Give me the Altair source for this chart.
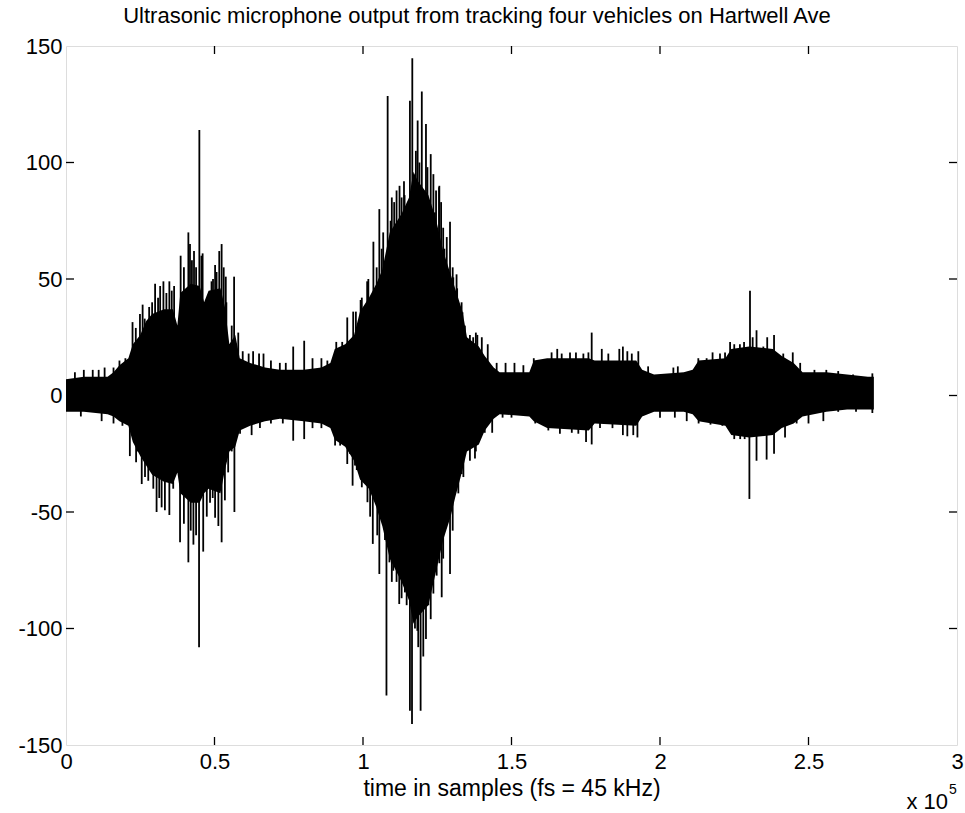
import altair as alt
import pandas as pd

# ---------------- data ----------------
# core envelope (x in thousands of samples)
env_k = [0, 6, 14, 16, 18, 21, 22.5, 25, 27, 29, 33, 36, 37.5, 38.5, 42, 45, 46.5, 48, 52, 53.5,
         55, 57, 58.5, 62, 67, 72, 80, 86, 89, 90.5, 94, 97, 99, 102, 104.5, 106.5, 109, 113,
         115.5, 117, 118.5, 122, 124.5, 127, 129.5, 131, 133.5, 135, 139, 141, 144, 146, 156,
         157.5, 162, 176, 178, 192, 194, 198, 208, 211, 213, 222, 224, 230, 238, 241, 245, 248,
         256, 263, 270, 272]
env_hi = [7, 8, 8, 10, 13, 16, 22, 26, 32, 35, 37, 37, 30, 44, 48, 47, 40, 45, 46, 38,
          22, 26, 16, 14, 12, 11, 11, 12, 14, 20, 22, 26, 36, 42, 48, 54, 70, 78,
          85, 96, 92, 86, 76, 62, 52, 46, 36, 25, 21, 17, 12, 10, 10,
          15, 16, 16, 15, 15, 11, 9, 10, 11, 15, 16, 20, 21, 20, 17, 14, 10,
          10, 9, 8, 8]
env_lo = [-7, -7, -8, -9, -11, -13, -20, -26, -30, -34, -37, -38, -33, -42, -46, -46, -42, -40, -42, -32,
          -24, -22, -15, -13, -11, -10, -11, -12, -14, -19, -22, -28, -36, -40, -48, -56, -70, -80,
          -88, -98, -95, -90, -76, -62, -52, -44, -32, -24, -21, -15, -10, -8, -9,
          -11, -14, -15, -12, -13, -9, -7, -7, -8, -11, -13, -17, -18, -17, -14, -12, -9,
          -7, -6, -6, -6]

# upward spikes (x in thousands of samples, peak value)
up_k = [3, 6, 9, 11, 13, 16, 18, 20, 22.4, 23.5, 24.9, 25.8, 26.5, 28, 29, 30, 31, 31.7, 32.8,
        33.8, 34.8, 35.6, 36.4, 38.6, 39.7, 41.2, 41.75, 42.4, 43.1, 43.8, 44.9, 45.6, 46, 48.1,
        49, 49.5, 50.2, 50.7, 51.6, 52.4, 53.1, 53.8, 54, 55.8, 56.6, 58, 59.5, 61.5, 63, 65, 66.5,
        69, 72, 74, 76.5, 80.2, 83, 86, 88, 91, 93, 94.7, 96.7, 97.6, 99.2, 99.6, 101.4, 101.8,
        103.5, 104.6, 105.5, 106.3, 106.8, 108.3, 109.3, 109.7, 110.5, 111.3, 112.3, 113, 113.8,
        114, 115.8, 116.6, 117.8, 118.4, 119, 119.8, 121.2, 121.7, 122.8, 123.7, 124.2, 124.6,
        125.6, 125.7, 126.3, 127, 127.4, 128.2, 129.3, 130.2, 130.4, 131.5, 131.7, 133.2, 133.5,
        134.3, 136, 137.1, 138, 138.5, 140, 142, 145, 148, 151, 154,
        157.5, 163.5, 165.4, 166.9, 169.7, 171.7, 174.2, 175.9, 177, 180.4, 182.6, 186.3, 187.5,
        189, 190.5, 192.7, 196, 204.5, 206, 212.9, 215.7, 217.7, 220.2, 221.9, 223.6, 225, 226.9,
        228.3, 230.3, 231.2, 232.5, 234.8, 236.1, 238.4, 241.5, 244.7, 247.2, 252, 256, 260, 265,
        271.5]
up_v = [10, 11, 11, 11, 12, 12, 15, 16, 31.5, 29, 35, 39, 33, 38, 40, 48, 42, 47, 49,
        44, 49, 45, 47, 60, 55, 70, 65, 58, 62, 55, 114, 60, 61, 42,
        49, 50, 56, 53, 62, 65, 55, 51, 40, 30, 51, 27, 19, 18, 19, 18, 18,
        15, 14, 14, 21, 23.5, 16, 16, 15, 23, 23, 33.5, 36, 36, 41, 42, 49, 50,
        66, 55, 80, 63, 70, 128.5, 75, 85, 83, 88, 90, 85, 92,
        86, 126.5, 144.7, 105, 118, 100, 130.5, 116.5, 98, 103.6, 95, 78.6, 88,
        89.4, 90, 83, 72, 63, 68, 74.6, 55, 50.7, 52, 46, 40, 35.7,
        30, 26, 25, 27, 26, 25, 22, 14, 14, 14, 13,
        16, 18.5, 20, 18, 18.5, 18.5, 18, 18.5, 27, 20, 18, 20, 21,
        19, 18, 19, 12.5, 12, 12.5, 16, 16, 18.5, 18, 18.5, 23, 22, 22,
        23, 45, 25, 28, 21, 25, 26, 18, 18.5, 14, 11, 11, 10.5, 9,
        9.5]

# downward spikes
dn_k = [5, 12, 16, 19, 21.5, 23.6, 24, 25.5, 26.6, 27.7, 29.4, 30.5, 31.4, 32.2, 33.3, 34.8, 36.1,
        37.3, 38.4, 39.7, 41.2, 42, 42.9, 43.8, 44.8, 46.2, 47.4, 48.5, 49.4, 50.2, 51.3, 52.4,
        53.5, 54.6, 55.8, 56.7, 58.6, 62.5, 65.3, 69, 73, 76.5, 80.2, 83, 86,
        90.6, 92.3, 94.7, 95.6, 96.5, 97.3, 97.9, 99.6, 101.5, 102.4, 103.3, 104.4, 104.8, 105.5,
        106.6, 107.4, 107.9, 108.9, 109.7, 110.2, 111.3, 112.2, 113, 114.1, 114.7, 115.8, 116.5,
        117.5, 118.3, 118.6, 119.4, 120.3, 121.2, 122, 122.8, 123.7, 124.8, 125.7, 126.5, 127,
        128.4, 129.3, 130.2, 131, 132.1, 133.2, 133.8, 135.5, 136, 137.7, 138, 141, 143.5, 147,
        150, 158, 162.4, 166.3, 170.3,
        172.5, 175.1, 177, 179.8, 184, 187.5, 189, 191, 192.4, 200, 205, 209, 213, 217, 221,
        225, 227, 228.5, 230.1, 232.5, 235.9, 238.4, 242.1, 246, 250, 255, 260, 266, 271.5]
dn_v = [-9, -11, -12, -13, -26, -28.6, -24, -38, -35, -36.6, -40, -50, -44, -48, -49.3, -51.3, -40,
        -33, -63, -55, -71.6, -58, -64, -60, -108, -67, -52, -46, -44, -52.5, -56, -63,
        -45, -33, -24, -50, -16.4, -17, -14, -12, -12, -19.4, -18.7, -14, -14,
        -21.5, -21.5, -29.4, -25, -38.7, -30, -32, -39.4, -45.8, -52, -63.7, -46, -60, -76.6,
        -52, -62, -128.8, -71.6, -80, -75.2, -80, -89.5, -87, -84.5, -90, -135.3, -141,
        -100, -101, -108, -135.3, -112, -104.5, -90, -96, -85, -77.3, -72, -86.6, -70,
        -48.7, -76.6, -58, -40, -42, -33.7, -35, -23, -28, -27, -24, -16, -16, -9.5,
        -9.5, -12, -15, -16.4, -16,
        -16.4, -20, -21, -14, -14, -17, -17.5, -17, -18, -9.5, -9.5, -11, -12, -12.5, -13,
        -18.7, -18.7, -18.7, -44.4, -28, -27.5, -25, -18, -12, -12, -11, -7, -7, -7.5]

x_ticks = [0, 50000, 100000, 150000, 200000, 250000, 300000]
y_ticks = [-150, -100, -50, 0, 50, 100, 150]

TITLE = "Ultrasonic microphone output from tracking four vehicles on Hartwell Ave"
XTITLE = "time in samples (fs = 45 kHz)"

# ---------------- chart ----------------
W, H = 891, 699
FONT = "Liberation Sans"
TL = 8  # inward tick length

env = pd.DataFrame({"x": [k * 1000 for k in env_k], "hi": env_hi, "lo": env_lo})
spk = pd.DataFrame({"x": [k * 1000 for k in up_k + dn_k], "v": up_v + dn_v})
spk["base"] = 0

xs = alt.Scale(domain=[0, 300000], nice=False, zero=False)
ys = alt.Scale(domain=[-150, 150], nice=False)

xaxis = alt.Axis(values=x_ticks, labelExpr="datum.value / 100000", ticks=False, domain=False,
                 grid=False, labelFontSize=22, labelPadding=6, labelFont=FONT, labelColor="black",
                 labelFlush=False, title=XTITLE, titleFont=FONT, titleFontSize=23,
                 titleFontWeight="normal", titleColor="black", titlePadding=5)
yaxis = alt.Axis(values=y_ticks, ticks=False, domain=False, grid=False, labelFontSize=22,
                 labelPadding=4, labelFont=FONT, labelColor="black", labelFlush=False, title="",
                 labelExpr="datum.value < 0 ? '-' + abs(datum.value) : '' + datum.value")

area = alt.Chart(env).mark_area(color="black", interpolate="linear", opacity=1).encode(
    x=alt.X("x:Q", scale=xs, axis=xaxis),
    y=alt.Y("hi:Q", scale=ys, axis=yaxis),
    y2="lo:Q",
)

spikes = alt.Chart(spk).mark_rule(color="black", strokeWidth=1.8).encode(
    x=alt.X("x:Q", scale=xs, axis=xaxis),
    y=alt.Y("v:Q", scale=ys, axis=yaxis),
    y2="base:Q",
)

xt = pd.DataFrame({"x": x_ticks[1:-1]})
yt = pd.DataFrame({"y": y_ticks[1:-1]})

top_t = alt.Chart(xt).mark_rule(color="black", strokeWidth=1.3).encode(
    x=alt.X("x:Q", scale=xs, axis=xaxis), y=alt.value(0), y2=alt.value(TL))
bot_t = alt.Chart(xt).mark_rule(color="black", strokeWidth=1.3).encode(
    x=alt.X("x:Q", scale=xs, axis=xaxis), y=alt.value(H - TL), y2=alt.value(H))
left_t = alt.Chart(yt).mark_rule(color="black", strokeWidth=1.3).encode(
    y=alt.Y("y:Q", scale=ys, axis=yaxis), x=alt.value(0), x2=alt.value(TL))
right_t = alt.Chart(yt).mark_rule(color="black", strokeWidth=1.3).encode(
    y=alt.Y("y:Q", scale=ys, axis=yaxis), x=alt.value(W - TL), x2=alt.value(W))

title_txt = alt.Chart(pd.DataFrame({"t": [TITLE]})).mark_text(
    font=FONT, fontSize=22, align="center", baseline="alphabetic", color="black").encode(
    text="t:N", x=alt.value(411), y=alt.value(-23))
mult = alt.Chart(pd.DataFrame({"t": ["x 10"]})).mark_text(
    font=FONT, fontSize=22, align="right", baseline="alphabetic", color="black").encode(
    text="t:N", x=alt.value(882), y=alt.value(763))
expo = alt.Chart(pd.DataFrame({"t": ["5"]})).mark_text(
    font=FONT, fontSize=14, align="left", baseline="alphabetic", color="black").encode(
    text="t:N", x=alt.value(883), y=alt.value(748))

chart = alt.layer(area, spikes, top_t, bot_t, left_t, right_t, title_txt, mult, expo).properties(
    width=W, height=H,
    autosize=alt.AutoSizeParams(type="none"),
    padding={"left": 66, "top": 46, "right": 8, "bottom": 68},
).configure_view(stroke="black", strokeWidth=1.5).configure(background="white")

chart.save("out.html", embed_options={"renderer": "svg", "actions": False})
